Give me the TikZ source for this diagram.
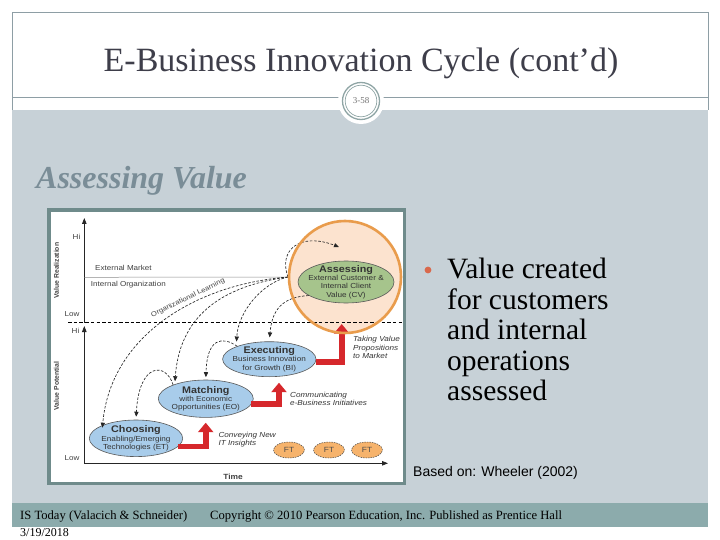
\documentclass[tikz,border=0pt]{standalone}
\usepackage{fontspec}
\setmainfont{Liberation Serif}
\newfontfamily\dg[FakeStretch=1.12]{Liberation Sans}
\newfontfamily\arialf{Liberation Sans}
\usetikzlibrary{arrows.meta,shapes.geometric}
\definecolor{bandc}{HTML}{C7D1D7}
\definecolor{footc}{HTML}{8CABAC}
\definecolor{borderc}{HTML}{8E9EA5}
\definecolor{titlec}{HTML}{3E3E4A}
\definecolor{headc}{HTML}{7A8D97}
\definecolor{framec}{HTML}{6F8B8B}
\definecolor{bulletc}{HTML}{D9694C}
\definecolor{ringc}{HTML}{8FA5A5}
\definecolor{bluec}{HTML}{A8CCEA}
\definecolor{greenc}{HTML}{A6C48C}
\definecolor{peachc}{HTML}{FCE3CF}
\definecolor{orangec}{HTML}{E99C4C}
\definecolor{ftc}{HTML}{F6B36C}
\definecolor{redc}{HTML}{D6282C}
\tikzset{
  ax/.style={line width=0.8pt, black!85, -{Triangle[width=4.5pt,length=6pt]}},
  lbl/.style={font=\dg\fontsize{7.2}{8}\selectfont, text=black!75, inner sep=0pt},
  ilbl/.style={font=\dg\itshape\fontsize{7.3}{8.3}\selectfont, text=black!80, inner sep=0pt, align=left, anchor=west},
  dsh/.style={dash pattern=on 2.6pt off 1.6pt, line width=0.65pt, black!85, -{Triangle[width=4.2pt,length=5pt]}},
  redarr/.style={draw=redc, line width=5.8pt, line join=miter, -{Triangle[width=15pt,length=9.5pt]}},
  ell/.style={ellipse, draw=black!65, line width=0.6pt, inner xsep=-12pt, inner ysep=-9pt, align=center,
    font=\dg\fontsize{7.3}{8.3}\selectfont, text=black!80},
  ft/.style={ellipse, draw=black!70, dash pattern=on 1.5pt off 1pt, line width=0.5pt, fill=ftc,
    minimum width=31pt, minimum height=16pt, inner sep=0pt, font=\dg\fontsize{7.5}{8}\selectfont, text=black!70}
}
\newcommand{\ehead}[1]{{\bfseries\fontsize{9.6}{8.3}\selectfont #1}}
\begin{document}
\begin{tikzpicture}[x=1pt,y=-1pt]
\useasboundingbox (0,0) rectangle (720,540);
\fill[white] (0,0) rectangle (720,540);
% slide frame and bands
\draw[borderc, line width=0.8pt] (12,110) -- (12,12) -- (708,12) -- (708,110);
\fill[bandc] (12,110) rectangle (708,503);
\fill[footc] (12,503) rectangle (708,527);
\draw[borderc, line width=0.8pt] (12,97) -- (708,97);
% slide number
\node[circle, fill=white, minimum size=46pt, inner sep=0pt] (numbg) at (361,101) {};
\draw[ringc, line width=1.3pt] (numbg.center) circle (18.5);
\draw[ringc, line width=0.7pt] (numbg.center) circle (15.8);
\node[font=\fontsize{9}{10}\selectfont, text=black!55] (num) at (numbg.center) {3-58};
% title
\node[font=\fontsize{34}{40}\selectfont, text=titlec] (title) at (361,63) {E-Business Innovation Cycle (cont’d)};
\node[anchor=west, font=\bfseries\itshape\fontsize{32}{36}\selectfont, text=headc, inner sep=0pt] (head) at (36,181) {Assessing Value};
% bullet
\fill[bulletc] (428,270) circle (3.4);
\node[anchor=north west, align=left, inner sep=0pt, font=\fontsize{29.5}{30.5}\selectfont, text=black] (bul) at (447,258)
  {Value created\\for customers\\and internal\\operations\\assessed};
\node[anchor=west, font=\arialf\fontsize{14}{16}\selectfont, text=black, inner sep=0pt] (src2) at (413,473) {Based on: Wheeler (2002)};
% footer
\node[anchor=west, font=\fontsize{12.6}{14}\selectfont, inner sep=0pt] (f1) at (20,516) {IS Today (Valacich \& Schneider)};
\node[anchor=west, font=\fontsize{12.6}{14}\selectfont, inner sep=0pt] (f2) at (210,516) {Copyright © 2010 Pearson Education, Inc. Published as Prentice Hall};
\node[anchor=west, font=\fontsize{12}{14}\selectfont, inner sep=0pt] (f3) at (20,533) {3/19/2018};
% ---------- picture ----------
\draw[framec, line width=3.6pt, fill=white] (49,210) rectangle (404.5,483.5);
\node[circle, fill=peachc, minimum size=112pt, inner sep=0pt] (bigc) at (345,277) {};
% axes
\draw[ax] (84.3,322.7) -- (84.3,218);
\draw[ax] (84.3,463.3) -- (84.3,326);
\draw[ax] (84.3,463.3) -- (388,463.3);
\draw[dash pattern=on 3.5pt off 2.2pt, line width=0.9pt] (68,322.7) -- (403,322.7);
\coordinate (src) at (288,277);
\draw[black!45, line width=0.5pt] (84.3,277.3) -- (src);
\node[lbl] (hi1) at (76.5,236.7) {Hi};
\node[lbl] (lo1) at (72,314.3) {Low};
\node[lbl] (hi2) at (75.5,330.7) {Hi};
\node[lbl] (lo2) at (72,458.3) {Low};
\node[lbl, font=\arialf\bfseries\fontsize{6.8}{7}\selectfont, rotate=90] (vr) at (56.5,270.5) {Value Realization};
\node[lbl, font=\arialf\bfseries\fontsize{6.8}{7}\selectfont, rotate=90] (vp) at (56.5,386) {Value Potential};
\node[lbl, font=\dg\bfseries\fontsize{7.5}{8}\selectfont] (time) at (233,477) {Time};
\node[lbl, anchor=west] (em) at (95,267.7) {External Market};
\node[lbl, anchor=west] (io) at (90.7,285) {Internal Organization};
\node[lbl, font=\dg\fontsize{6.8}{7}\selectfont, rotate=26] (ol) at (188,298) {Organizational Learning};
% ellipses
\node[ell, fill=greenc, minimum width=96pt, minimum height=42pt] (assess) at (346,282)
  {\ehead{Assessing}\\External Customer \&\\Internal Client\\Value (CV)};
\node[ell, fill=bluec, minimum width=93.4pt, minimum height=35pt] (exec) at (269.3,359.2)
  {\ehead{Executing}\\Business Innovation\\for Growth (BI)};
\node[ell, fill=bluec, minimum width=95pt, minimum height=37.4pt] (match) at (205.8,398.7)
  {\ehead{Matching}\\with Economic\\Opportunities (EO)};
\node[ell, fill=bluec, minimum width=93.4pt, minimum height=36.6pt] (choose) at (136,438.3)
  {\ehead{Choosing}\\Enabling/Emerging\\Technologies (ET)};
% dashed feedback arrows
\coordinate (loopend) at (339,247);
\draw[dsh] (src) .. controls (190,285) and (110,340) .. ([shift={(1pt,-2pt)}]choose.160);
\draw[dsh, shorten >=3pt] (src) .. controls (230,285) and (180,310) .. (match.155);
\draw[dsh, shorten >=5pt] (src) .. controls (262,283) and (238,312) .. (exec.159);
\draw[dsh] (src) .. controls (278,250) and (300,232) .. (loopend);
\draw[dsh, shorten >=4pt] (assess.200) .. controls (282,297) and (272,310) .. (exec.north);
\draw[dsh, shorten >=2.5pt] (exec.158) .. controls (222,336) and (207,338) .. (match.north);
\draw[dsh, shorten >=3pt] (match.157) .. controls (166,362) and (139,362) .. (choose.north);
% red arrows
\coordinate (r1) at (205.7,422.7);
\coordinate (r2) at (279,382.7);
\coordinate (r3) at (341.7,324);
\draw[redarr] (choose.-11) -| (r1);
\draw[redarr] (match.-7) -| (r2);
\draw[redarr] (exec.-3) -| (r3);
\node[ilbl] (l1) at (218.3,439.6) {Conveying New\\IT Insights};
\node[ilbl] (l2) at (290,398.8) {Communicating\\e-Business Initiatives};
\node[ilbl] (l3) at (353,347.6) {Taking Value\\Propositions\\to Market};
% circle outline
\draw[orangec, line width=2.6pt] (bigc.center) circle (56);
% FT
\node[ft] (ft1) at (289,450) {FT};
\node[ft] (ft2) at (329,450) {FT};
\node[ft] (ft3) at (367,450) {FT};
\end{tikzpicture}
\end{document}
